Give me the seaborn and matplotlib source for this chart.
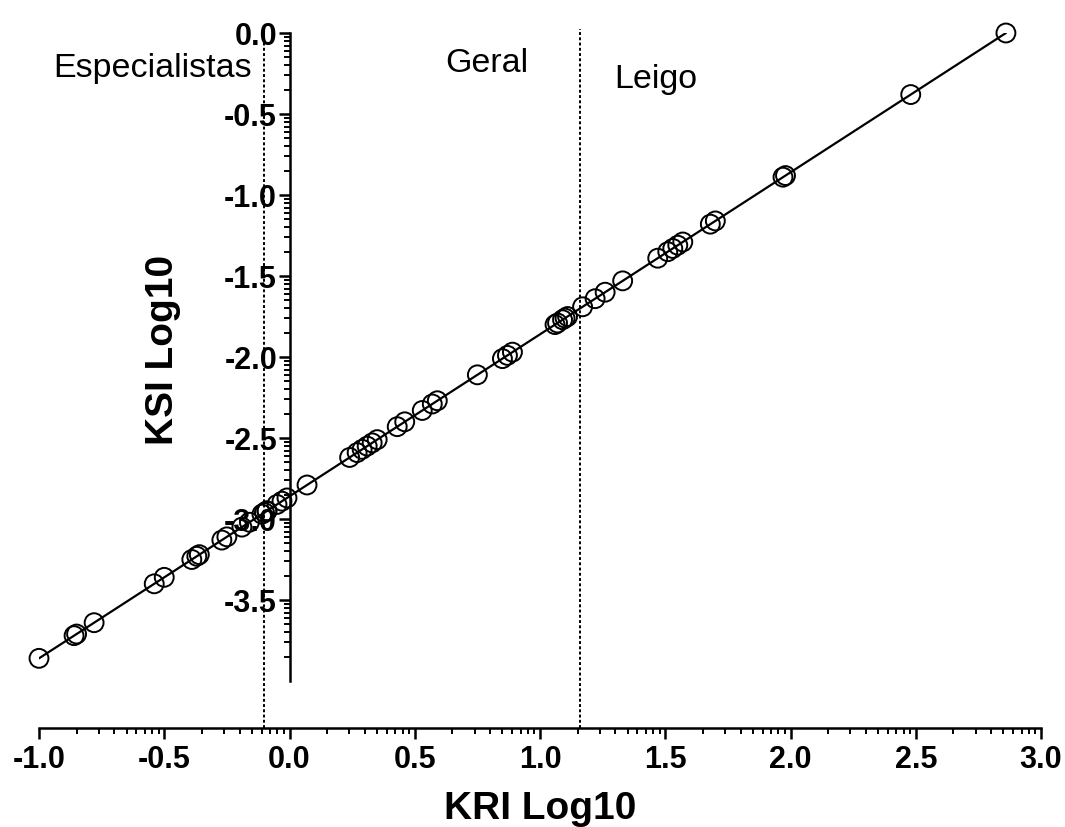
import numpy as np
import pandas as pd
import matplotlib
matplotlib.use("Agg")
import matplotlib.pyplot as plt
import seaborn as sns
from matplotlib.ticker import FixedLocator, FixedFormatter

# ---- data ----
kri = [-1.00, -0.86, -0.85, -0.78, -0.54, -0.50, -0.39, -0.37, -0.36, -0.27,
       -0.25, -0.19, -0.16, -0.11, -0.10, -0.09, -0.09, -0.05, -0.03, -0.01,
       0.07, 0.24, 0.27, 0.29, 0.31, 0.33, 0.35, 0.43, 0.46, 0.53,
       0.57, 0.59, 0.75, 0.85, 0.87, 0.89, 1.06, 1.07, 1.09, 1.10,
       1.11, 1.17, 1.22, 1.26, 1.33, 1.47, 1.51, 1.53, 1.55, 1.57,
       1.68, 1.70, 1.97, 1.98, 2.48, 2.86]
ksi = [-3.86, -3.72, -3.71, -3.64, -3.40, -3.36, -3.25, -3.23, -3.22, -3.13,
       -3.11, -3.05, -3.02, -2.97, -2.96, -2.95, -2.95, -2.91, -2.89, -2.87,
       -2.79, -2.62, -2.59, -2.57, -2.55, -2.53, -2.51, -2.43, -2.40, -2.33,
       -2.29, -2.27, -2.11, -2.01, -1.99, -1.97, -1.80, -1.79, -1.77, -1.76,
       -1.75, -1.69, -1.64, -1.60, -1.53, -1.39, -1.35, -1.33, -1.31, -1.29,
       -1.18, -1.16, -0.89, -0.88, -0.38, 0.00]

x_ticks = [-1.0, -0.5, 0.0, 0.5, 1.0, 1.5, 2.0, 2.5, 3.0]
x_tick_labels = ["-1.0", "-0.5", "0.0", "0.5", "1.0", "1.5", "2.0", "2.5", "3.0"]
y_ticks = [0.0, -0.5, -1.0, -1.5, -2.0, -2.5, -3.0, -3.5]
y_tick_labels = ["0.0", "-0.5", "-1.0", "-1.5", "-2.0", "-2.5", "-3.0", "-3.5"]

cutoffs = [-0.10, 1.16]
group_names = ["Especialistas", "Geral", "Leigo"]
group_pos = [(-0.944, -0.27), (0.621, -0.24), (1.295, -0.34)]

df = pd.DataFrame({"KRI": kri, "KSI": ksi})

sns.set_theme(style="ticks")
plt.rcParams["font.family"] = ["Liberation Sans", "DejaVu Sans"]
plt.rcParams["text.color"] = "black"

fig = plt.figure(figsize=(10.65, 8.27), dpi=100)
ax = fig.add_axes([39 / 1065, 1 - 728 / 827, (1041 - 39) / 1065, (728 - 33) / 827])

ax.set_xlim(-1.0, 3.0)
ax.set_ylim(-4.29, 0.0)

# dotted group boundaries
for c in cutoffs:
    ax.vlines(c, -4.29, 0.025, colors="black", linestyles=(0, (1.5, 1.2)),
              linewidth=1.4, clip_on=False, zorder=1)

# regression line
sns.regplot(data=df, x="KRI", y="KSI", ax=ax, scatter=False, ci=None,
            truncate=True, line_kws=dict(color="black", lw=1.6, zorder=2))

# open-circle points
sns.scatterplot(data=df, x="KRI", y="KSI", ax=ax, s=185, marker="o",
                facecolor="none", edgecolor="black", linewidth=1.4,
                clip_on=False, zorder=3)

# group labels
for name, (gx, gy) in zip(group_names, group_pos):
    ax.text(gx, gy, name, fontsize=24.5, ha="left", va="baseline", color="black")

# spines
ax.spines["top"].set_visible(False)
ax.spines["right"].set_visible(False)
ax.spines["left"].set_position(("data", 0.0))
ax.spines["left"].set_bounds(-4.0, 0.0)
ax.spines["bottom"].set_bounds(-1.0, 3.0)
for s in ("left", "bottom"):
    ax.spines[s].set_linewidth(1.8)
    ax.spines[s].set_color("black")

# ticks
ax.xaxis.set_major_locator(FixedLocator(x_ticks))
ax.xaxis.set_major_formatter(FixedFormatter(x_tick_labels))
ax.yaxis.set_major_locator(FixedLocator(y_ticks))
ax.yaxis.set_major_formatter(FixedFormatter(y_tick_labels))

log_steps = np.log10(np.arange(2, 10)) * 0.5
x_minor = [lo + s for lo in x_ticks[:-1] for s in log_steps]
y_minor = [lo + s for lo in [-4.0, -3.5, -3.0, -2.5, -2.0, -1.5, -1.0, -0.5] for s in log_steps]
ax.xaxis.set_minor_locator(FixedLocator(x_minor))
ax.yaxis.set_minor_locator(FixedLocator(y_minor))

ax.tick_params(axis="both", which="major", length=8, width=1.8, color="black",
               labelsize=22, labelcolor="black")
ax.tick_params(axis="both", which="minor", length=4.5, width=1.4, color="black")
ax.tick_params(axis="x", which="major", pad=4)
ax.tick_params(axis="y", which="major", pad=1)
for lab in ax.get_xticklabels() + ax.get_yticklabels():
    lab.set_fontweight("bold")

ax.set_xlabel("")
ax.set_ylabel("")
fig.text(540 / 1065, 1 - 809 / 827, "KRI Log10", fontsize=28, fontweight="bold",
         ha="center", va="center", color="black")
fig.text(163 / 1065, 1 - 350 / 827, "KSI Log10", fontsize=28, fontweight="bold",
         ha="center", va="center", rotation=90, color="black")

ax.set_facecolor("white")
fig.patch.set_facecolor("white")
fig.savefig("out.png", dpi=100)
